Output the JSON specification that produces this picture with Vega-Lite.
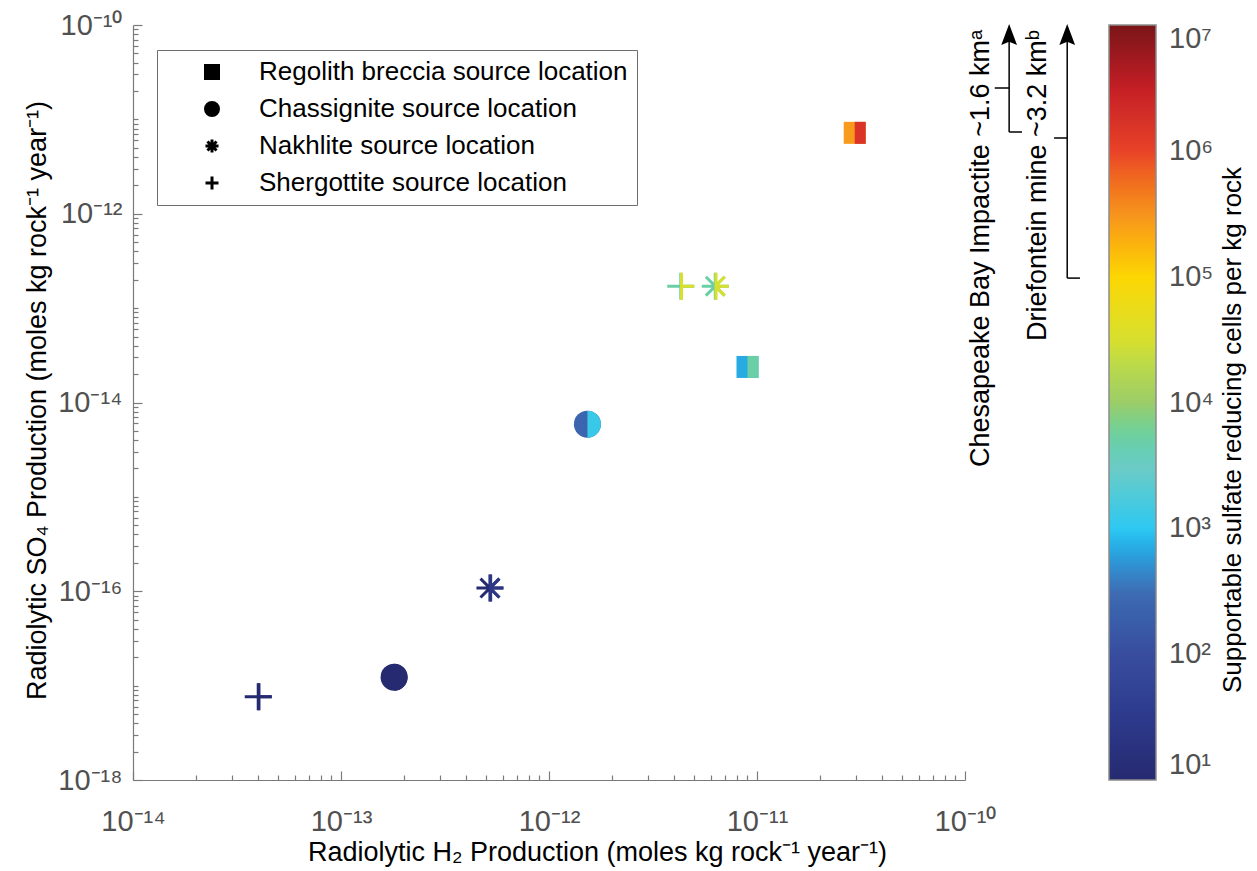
{
"$schema": "https://vega.github.io/schema/vega-lite/v6.json",
"width": 832, "height": 755,
"autosize": {"type": "none"},
"padding": {"left": 133, "top": 25, "right": 292, "bottom": 91},
"background": "white",
"config": {"view": {"stroke": null}, "font": "Liberation Sans"},
"datasets": {
"points": [
{"source": "Regolith breccia source location", "x": 2.95e-11, "y": 7.2e-12, "left": 280000, "right": 1600000},
{"source": "Regolith breccia source location", "x": 9.0e-12, "y": 2.38e-14, "left": 700, "right": 5000},
{"source": "Chassignite source location", "x": 1.53e-12, "y": 5.9e-15, "left": 250, "right": 1250},
{"source": "Chassignite source location", "x": 1.8e-13, "y": 1.23e-17, "left": 10, "right": 10},
{"source": "Nakhlite source location", "x": 6.3e-12, "y": 1.71e-13, "left": 5000, "right": 32000},
{"source": "Nakhlite source location", "x": 5.2e-13, "y": 1.08e-16, "left": 10, "right": 25},
{"source": "Shergottite source location", "x": 4.3e-12, "y": 1.71e-13, "left": 5000, "right": 32000},
{"source": "Shergottite source location", "x": 4.0e-14, "y": 7.6e-18, "left": 10, "right": 10}
],
"segments": [
{"x": 1.63e-10, "y": 7.35e-12, "x2": 1.63e-10, "y2": 7.9e-11},
{"x": 1.39e-10, "y": 2.15e-11, "x2": 1.63e-10, "y2": 2.15e-11},
{"x": 1.63e-10, "y": 7.35e-12, "x2": 1.88e-10, "y2": 7.35e-12},
{"x": 3.10e-10, "y": 2.08e-13, "x2": 3.10e-10, "y2": 7.9e-11},
{"x": 2.68e-10, "y": 6.35e-12, "x2": 3.10e-10, "y2": 6.35e-12},
{"x": 3.10e-10, "y": 2.08e-13, "x2": 3.57e-10, "y2": 2.08e-13}
],
"arrowheads": [
{"x": 1.63e-10, "y": 7.93e-11},
{"x": 3.10e-10, "y": 7.93e-11}
],
"notes": [
{"x": 1.19e-10, "y": 8.85e-11, "label": "Chesapeake Bay Impactite  ~1.6 kmᵃ"},
{"x": 2.25e-10, "y": 8.85e-11, "label": "Driefontein mine  ~3.2 kmᵇ"}
],
"cbtitle": [
{"x": 1.94e-9, "y": 5.12e-15, "label": "Supportable sulfate reducing cells per kg rock"}
]
},
"encoding": {
"x": {"field": "x", "type": "quantitative",
 "scale": {"type": "log", "domain": [1e-14, 1e-10], "nice": false, "zero": false},
 "axis": {
  "title": "Radiolytic H₂ Production (moles kg rock⁻¹ year⁻¹)",
  "values": [1e-14,2e-14,3e-14,4e-14,5e-14,6e-14,7e-14,8e-14,9e-14,1e-13,2e-13,3e-13,4e-13,5e-13,6e-13,7e-13,8e-13,9e-13,1e-12,2e-12,3e-12,4e-12,5e-12,6e-12,7e-12,8e-12,9e-12,1e-11,2e-11,3e-11,4e-11,5e-11,6e-11,7e-11,8e-11,9e-11,1e-10],
  "labelExpr": "abs(log(datum.value)/LN10 - round(log(datum.value)/LN10)) > 0.001 ? '' : round(log(datum.value)/LN10) == -10 ? '10⁻¹⁰' : round(log(datum.value)/LN10) == -11 ? '10⁻¹¹' : round(log(datum.value)/LN10) == -12 ? '10⁻¹²' : round(log(datum.value)/LN10) == -13 ? '10⁻¹³' : '10⁻¹⁴'",
  "grid": false, "domainColor": "#7a7a7a", "domainWidth": 1.2, "tickColor": "#7a7a7a", "tickWidth": 1.2,
  "tickSize": {"condition": {"test": "abs(log(datum.value)/LN10 - round(log(datum.value)/LN10)) < 0.001", "value": -9}, "value": -5},
  "labelPadding": 36, "labelFontSize": 29, "labelColor": "#505050", "labelFont": "Liberation Sans",
  "labelOverlap": false, "labelFlush": false, "labelBound": false,
  "titleFontSize": 27, "titleFont": "Liberation Sans", "titleFontWeight": "normal", "titleColor": "black",
  "titleY": 80, "titleX": 464, "titleAlign": "center", "titleBaseline": "alphabetic"
 }},
"y": {"field": "y", "type": "quantitative",
 "scale": {"type": "log", "domain": [1e-18, 1e-10], "nice": false, "zero": false},
 "axis": {
  "title": "Radiolytic SO₄ Production (moles kg rock⁻¹ year⁻¹)",
  "values": [1e-18,2e-18,3e-18,4e-18,5e-18,6e-18,7e-18,8e-18,9e-18,1e-17,2e-17,3e-17,4e-17,5e-17,6e-17,7e-17,8e-17,9e-17,1e-16,2e-16,3e-16,4e-16,5e-16,6e-16,7e-16,8e-16,9e-16,1e-15,2e-15,3e-15,4e-15,5e-15,6e-15,7e-15,8e-15,9e-15,1e-14,2e-14,3e-14,4e-14,5e-14,6e-14,7e-14,8e-14,9e-14,1e-13,2e-13,3e-13,4e-13,5e-13,6e-13,7e-13,8e-13,9e-13,1e-12,2e-12,3e-12,4e-12,5e-12,6e-12,7e-12,8e-12,9e-12,1e-11,2e-11,3e-11,4e-11,5e-11,6e-11,7e-11,8e-11,9e-11,1e-10],
  "labelExpr": "abs(log(datum.value)/LN10 - round(log(datum.value)/LN10)) > 0.001 ? '' : round(log(datum.value)/LN10) == -10 ? '10⁻¹⁰' : round(log(datum.value)/LN10) == -12 ? '10⁻¹²' : round(log(datum.value)/LN10) == -14 ? '10⁻¹⁴' : round(log(datum.value)/LN10) == -16 ? '10⁻¹⁶' : round(log(datum.value)/LN10) == -18 ? '10⁻¹⁸' : ''",
  "grid": false, "domainColor": "#7a7a7a", "domainWidth": 1.2, "tickColor": "#7a7a7a", "tickWidth": 1.2,
  "tickSize": {"condition": {"test": "abs(log(datum.value)/LN10 - round(log(datum.value)/LN10)) < 0.001 && round(log(datum.value)/LN10) % 2 == 0", "value": -9}, "value": -5},
  "labelPadding": 20, "labelFontSize": 29, "labelColor": "#505050", "labelFont": "Liberation Sans",
  "labelOverlap": false, "labelFlush": false, "labelBound": false,
  "titleFontSize": 27, "titleFont": "Liberation Sans", "titleFontWeight": "normal", "titleColor": "black",
  "titleX": -88, "titleY": 375, "titleBaseline": "alphabetic"
 }}
},
"layer": [
{
 "data": {"name": "points"},
 "mark": {"type": "square", "opacity": 0},
 "encoding": {
  "fill": {"field": "left", "type": "quantitative",
   "scale": {"type": "log", "domain": [10, 31.6, 100, 316, 1000, 3162, 10000, 31623, 100000, 316228, 1000000, 3162278, 10000000],
    "range": ["#262a70", "#2d3a8c", "#384d9e", "#3d6cb3", "#2ec8f2", "#6ecbc4", "#9ccd68", "#d8e02c", "#fcd602", "#f6931e", "#e84228", "#c41e25", "#7a1518"]},
   "legend": {"type": "gradient", "orient": "none", "legendX": 976, "legendY": 0, "direction": "vertical",
    "gradientLength": 755, "gradientThickness": 47, "gradientStrokeColor": "#8c8c8c", "gradientStrokeWidth": 1.5,
    "values": [10, 100, 1000, 10000, 100000, 1000000, 10000000],
    "labelExpr": "round(log(datum.value)/LN10) == 1 ? '10¹' : round(log(datum.value)/LN10) == 2 ? '10²' : round(log(datum.value)/LN10) == 3 ? '10³' : round(log(datum.value)/LN10) == 4 ? '10⁴' : round(log(datum.value)/LN10) == 5 ? '10⁵' : round(log(datum.value)/LN10) == 6 ? '10⁶' : '10⁷'",
    "labelFont": "Liberation Sans", "labelFontSize": 29, "labelColor": "#505050", "labelOffset": 13, "labelOverlap": false,
    "labelBaseline": "middle",
    "encode": {"labels": {"baseline": {"value": "middle"}}},
    "title": null}}
 }
},
{
 "data": {"name": "points"},
 "transform": [{"filter": "datum.source == 'Regolith breccia source location' || datum.source == 'Chassignite source location'"}],
 "mark": {"type": "point", "filled": true, "opacity": 1, "strokeWidth": 0},
 "encoding": {
  "shape": {"field": "source", "type": "nominal",
   "scale": {"domain": ["Regolith breccia source location", "Chassignite source location", "Nakhlite source location", "Shergottite source location"],
    "range": ["square", "circle", "M-1,0L1,0M0,-1L0,1M-0.7,-0.7L0.7,0.7M-0.7,0.7L0.7,-0.7", "M-1,0L1,0M0,-1L0,1"]},
   "legend": {"orient": "none", "legendX": 24, "legendY": 25, "title": null,
    "strokeColor": "#6e6e6e", "fillColor": "white", "padding": 9,
    "symbolOffset": 33, "labelOffset": 34, "labelFont": "Liberation Sans", "labelFontSize": 26, "labelColor": "black",
    "rowPadding": 11, "symbolSize": 169, "symbolFillColor": "black", "symbolStrokeColor": "black", "symbolStrokeWidth": 3, "labelLimit": 1000,
    "encode": {"symbols": {"fill": {"value": "black"}, "stroke": {"value": "black"}, "strokeWidth": {"value": 3}, "opacity": {"value": 1}}}}},
  "fill": {"field": "left", "type": "quantitative",
   "scale": {"type": "log", "domain": [10, 31.6, 100, 316, 1000, 3162, 10000, 31623, 100000, 316228, 1000000, 3162278, 10000000],
    "range": ["#262a70", "#2d3a8c", "#384d9e", "#3d6cb3", "#2ec8f2", "#6ecbc4", "#9ccd68", "#d8e02c", "#fcd602", "#f6931e", "#e84228", "#c41e25", "#7a1518"]},
   "legend": null},
  "size": {"condition": {"test": "datum.source == 'Regolith breccia source location'", "value": 484}, "value": 729}
 }
},
{
 "data": {"name": "points"},
 "transform": [{"filter": "datum.source == 'Nakhlite source location' || datum.source == 'Shergottite source location'"}],
 "mark": {"type": "point", "filled": false, "opacity": 1, "strokeWidth": 3, "size": 729},
 "encoding": {
  "shape": {"field": "source", "type": "nominal",
   "scale": {"domain": ["Regolith breccia source location", "Chassignite source location", "Nakhlite source location", "Shergottite source location"],
    "range": ["square", "circle", "M-1,0L1,0M0,-1L0,1M-0.7,-0.7L0.7,0.7M-0.7,0.7L0.7,-0.7", "M-1,0L1,0M0,-1L0,1"]},
   "legend": null},
  "stroke": {"field": "left", "type": "quantitative",
   "scale": {"type": "log", "domain": [10, 31.6, 100, 316, 1000, 3162, 10000, 31623, 100000, 316228, 1000000, 3162278, 10000000],
    "range": ["#262a70", "#2d3a8c", "#384d9e", "#3d6cb3", "#2ec8f2", "#6ecbc4", "#9ccd68", "#d8e02c", "#fcd602", "#f6931e", "#e84228", "#c41e25", "#7a1518"]},
   "legend": null}
 }
},
{
 "data": {"name": "points"},
 "transform": [{"filter": "datum.source == 'Regolith breccia source location'"}],
 "mark": {"type": "point", "filled": true, "opacity": 1, "strokeWidth": 0, "size": 484, "shape": "M0,-1L1,-1L1,1L0,1Z"},
 "encoding": {
  "fill": {"field": "right", "type": "quantitative",
   "scale": {"type": "log", "domain": [10, 31.6, 100, 316, 1000, 3162, 10000, 31623, 100000, 316228, 1000000, 3162278, 10000000],
    "range": ["#262a70", "#2d3a8c", "#384d9e", "#3d6cb3", "#2ec8f2", "#6ecbc4", "#9ccd68", "#d8e02c", "#fcd602", "#f6931e", "#e84228", "#c41e25", "#7a1518"]},
   "legend": null}
 }
},
{
 "data": {"name": "points"},
 "transform": [{"filter": "datum.source == 'Chassignite source location'"}],
 "mark": {"type": "point", "filled": true, "opacity": 1, "strokeWidth": 0, "size": 729, "shape": "M0,-1A1,1,0,0,1,0,1Z"},
 "encoding": {
  "fill": {"field": "right", "type": "quantitative",
   "scale": {"type": "log", "domain": [10, 31.6, 100, 316, 1000, 3162, 10000, 31623, 100000, 316228, 1000000, 3162278, 10000000],
    "range": ["#262a70", "#2d3a8c", "#384d9e", "#3d6cb3", "#2ec8f2", "#6ecbc4", "#9ccd68", "#d8e02c", "#fcd602", "#f6931e", "#e84228", "#c41e25", "#7a1518"]},
   "legend": null}
 }
},
{
 "data": {"name": "points"},
 "transform": [{"filter": "datum.source == 'Nakhlite source location'"}],
 "mark": {"type": "point", "filled": false, "opacity": 1, "strokeWidth": 3, "size": 729, "shape": "M0.05,0L1,0M0.055,-1L0.055,1M0.05,-0.05L0.7,-0.7M0.05,0.05L0.7,0.7"},
 "encoding": {
  "stroke": {"field": "right", "type": "quantitative",
   "scale": {"type": "log", "domain": [10, 31.6, 100, 316, 1000, 3162, 10000, 31623, 100000, 316228, 1000000, 3162278, 10000000],
    "range": ["#262a70", "#2d3a8c", "#384d9e", "#3d6cb3", "#2ec8f2", "#6ecbc4", "#9ccd68", "#d8e02c", "#fcd602", "#f6931e", "#e84228", "#c41e25", "#7a1518"]},
   "legend": null}
 }
},
{
 "data": {"name": "points"},
 "transform": [{"filter": "datum.source == 'Shergottite source location'"}],
 "mark": {"type": "point", "filled": false, "opacity": 1, "strokeWidth": 3, "size": 729, "shape": "M0.05,0L1,0M0.055,-1L0.055,1"},
 "encoding": {
  "stroke": {"field": "right", "type": "quantitative",
   "scale": {"type": "log", "domain": [10, 31.6, 100, 316, 1000, 3162, 10000, 31623, 100000, 316228, 1000000, 3162278, 10000000],
    "range": ["#262a70", "#2d3a8c", "#384d9e", "#3d6cb3", "#2ec8f2", "#6ecbc4", "#9ccd68", "#d8e02c", "#fcd602", "#f6931e", "#e84228", "#c41e25", "#7a1518"]},
   "legend": null}
 }
},
{
 "data": {"name": "segments"},
 "mark": {"type": "rule", "color": "black", "strokeWidth": 1.5},
 "encoding": {"x2": {"field": "x2"}, "y2": {"field": "y2"}}
},
{
 "data": {"name": "arrowheads"},
 "mark": {"type": "point", "filled": true, "opacity": 1, "color": "black", "strokeWidth": 0, "size": 441, "shape": "M0,-1L0.75,1L0,0.7L-0.75,1Z"},
 "encoding": {}
},
{
 "data": {"name": "notes"},
 "mark": {"type": "text", "angle": 270, "align": "right", "baseline": "middle", "fontSize": 27, "font": "Liberation Sans", "color": "black"},
 "encoding": {"text": {"field": "label"}}
},
{
 "data": {"name": "cbtitle"},
 "mark": {"type": "text", "angle": 270, "align": "center", "baseline": "middle", "fontSize": 26, "font": "Liberation Sans", "color": "black"},
 "encoding": {"text": {"field": "label"}}
}
],
"resolve": {"scale": {"fill": "independent"}}
}
